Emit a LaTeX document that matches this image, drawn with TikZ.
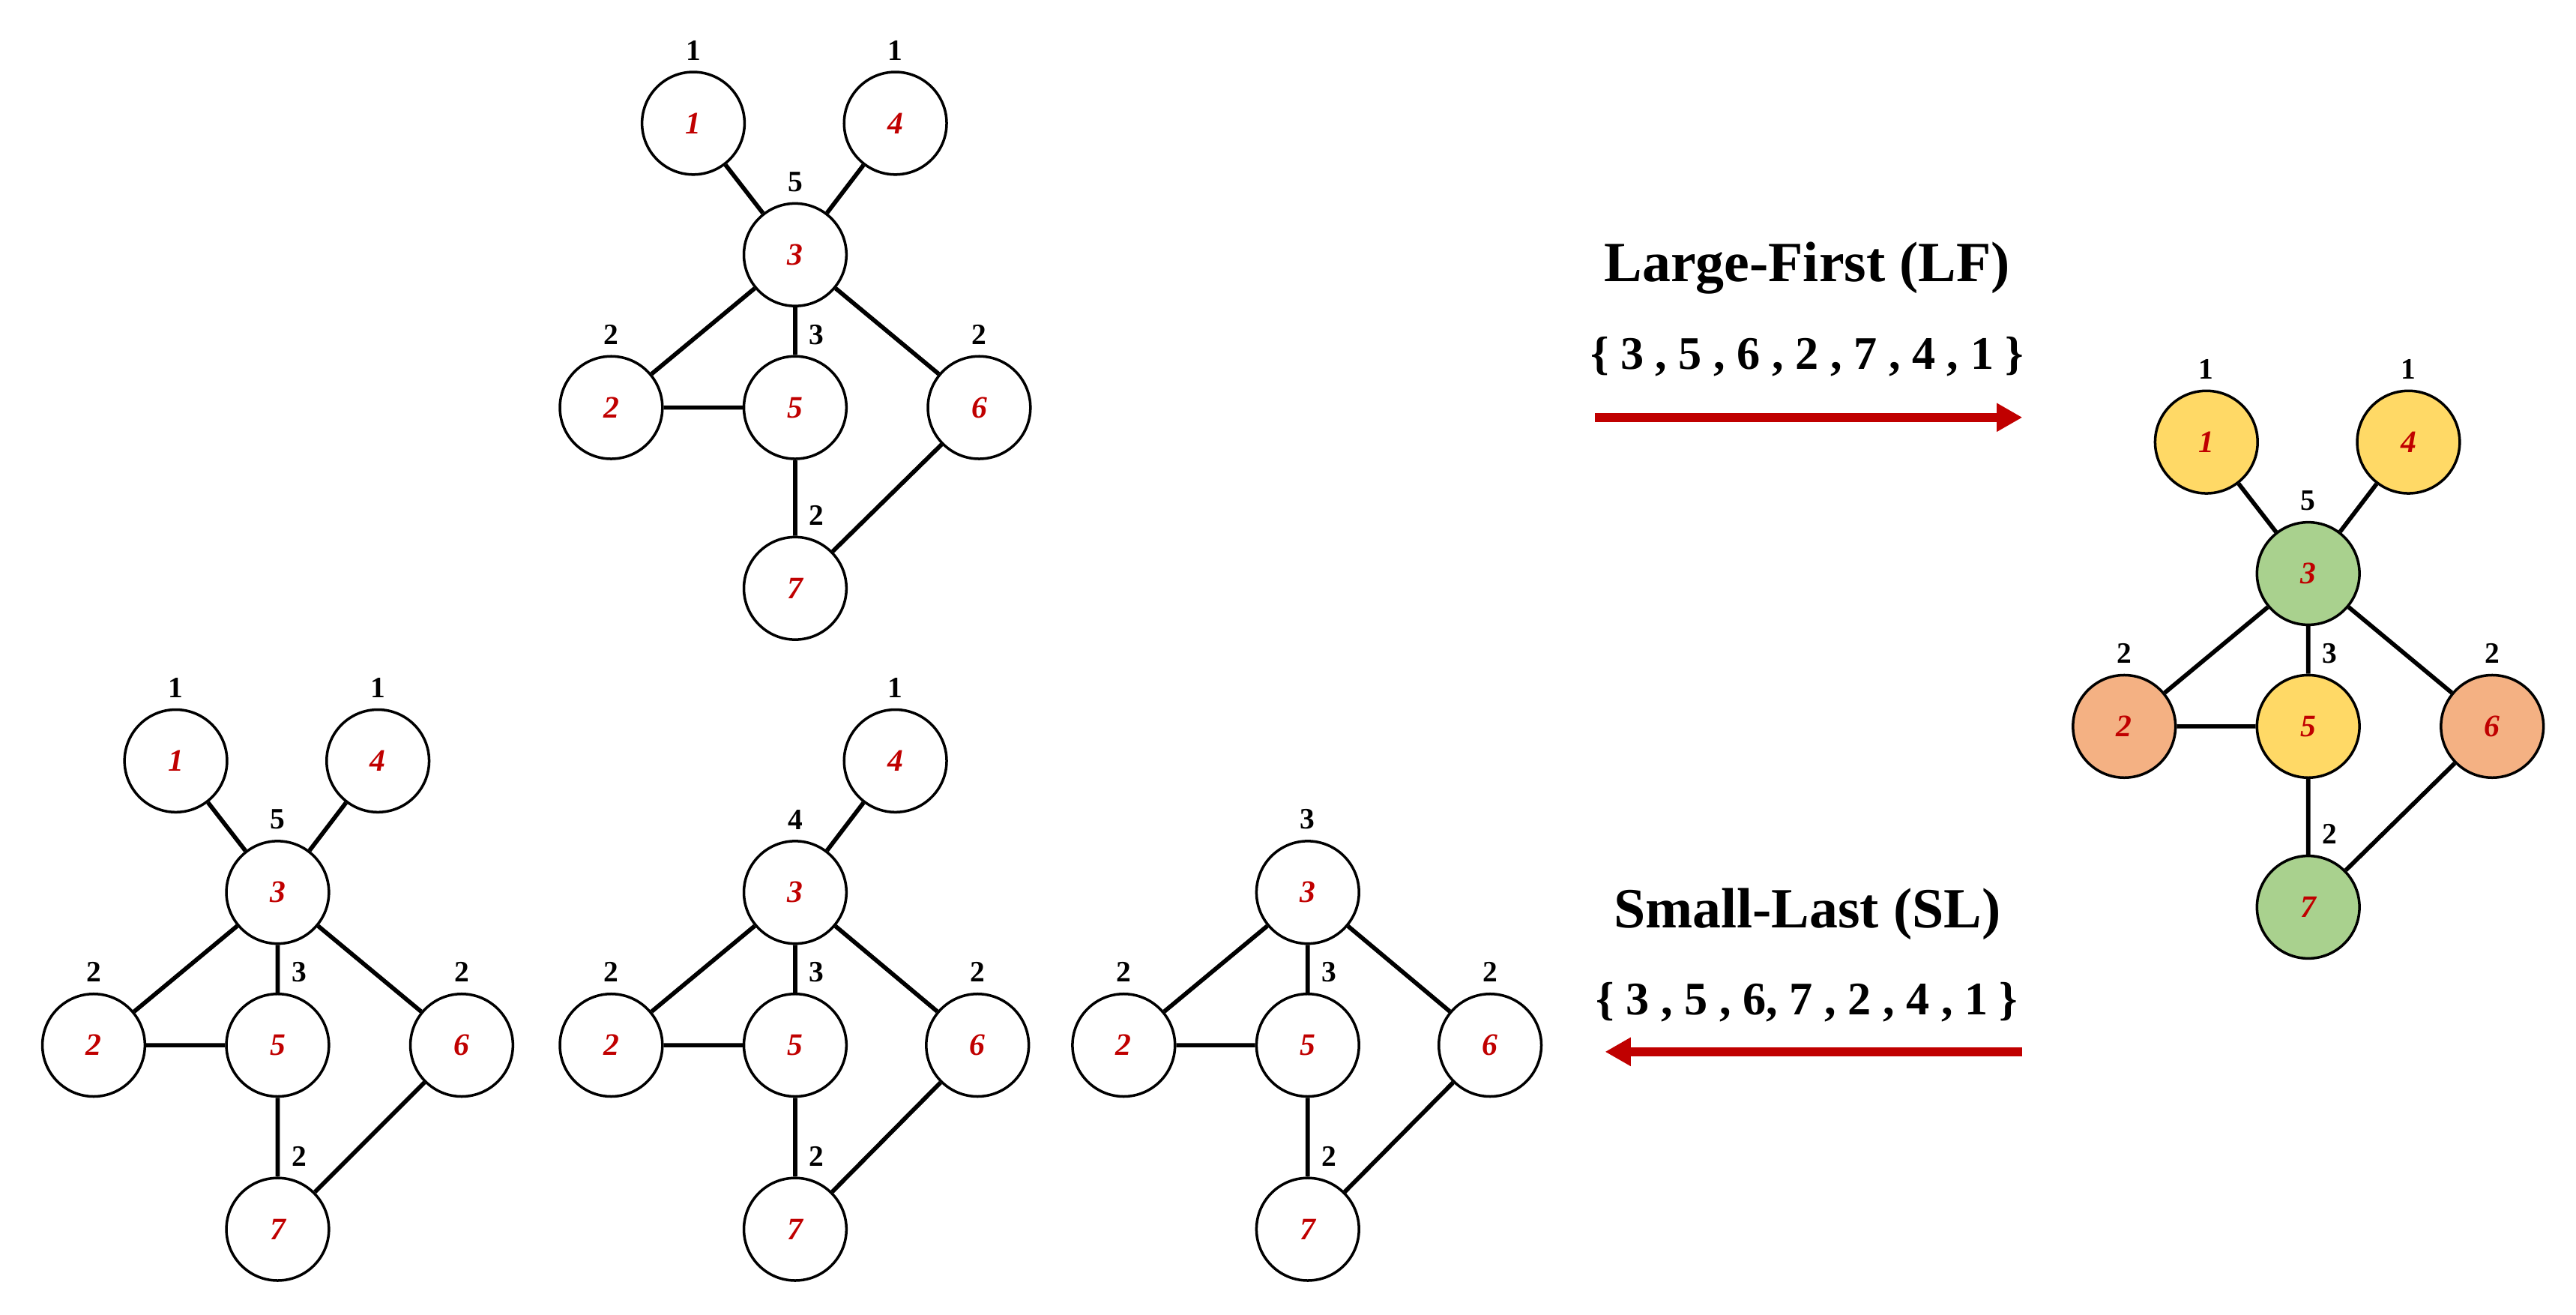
\documentclass[tikz,border=0pt]{standalone}
\usepackage{fontspec}
\setmainfont{Liberation Serif}
\usepackage{tikz}
\usetikzlibrary{arrows.meta,positioning}
\definecolor{vred}{HTML}{C00000}
\definecolor{vyellow}{HTML}{FFD966}
\definecolor{vgreen}{HTML}{A9D18E}
\definecolor{vorange}{HTML}{F4B183}
\tikzset{
  vertex/.style={circle, draw, line width=0.8pt, minimum size=31.2pt, inner sep=0pt,
    text=vred, font=\fontsize{9.5}{10}\selectfont\bfseries\itshape},
  degree/.style={font=\fontsize{9}{10}\selectfont\bfseries, inner sep=0pt, text=black},
  edge/.style={line width=1.3pt},
  order/.style={line width=2.7pt, color=vred, -{Triangle[length=7.8pt,width=8.2pt]}},
  title/.style={font=\fontsize{17.3}{20}\selectfont\bfseries},
  seq/.style={font=\fontsize{14.2}{16}\selectfont\bfseries},
}

\begin{document}
\begin{tikzpicture}[x=0.5pt, y=0.5pt, every label/.style={degree}, label distance=3pt]
        \useasboundingbox (0,0) rectangle (1568,-800);

        % original graph
        \begin{scope}[shift={(484,-155)}]
        \node[vertex, label=above:1] (top1) at (-62,80) {1};
        \node[vertex, label=above:1] (top4) at (61,80) {4};
        \node[vertex, label=above:5] (top3) at (0,0) {3};
        \node[vertex, label=above:2] (top2) at (-112,-93) {2};
        \node[vertex, label={[xshift=6.5pt]above:3}] (top5) at (0,-93) {5};
        \node[vertex, label=above:2] (top6) at (112,-93) {6};
        \node[vertex, label={[xshift=6.5pt]above:2}] (top7) at (0,-203) {7};
        \end{scope}
        \draw[edge] (top1)--(top3) (top4)--(top3) (top3)--(top2) (top3)--(top5) (top3)--(top6)
              (top2)--(top5) (top5)--(top7) (top6)--(top7);

        % coloured graph
        \begin{scope}[shift={(1405,-349)}]
        \node[vertex, fill=vyellow, label=above:1] (lf1) at (-62,80) {1};
        \node[vertex, fill=vyellow, label=above:1] (lf4) at (61,80) {4};
        \node[vertex, fill=vgreen, label=above:5] (lf3) at (0,0) {3};
        \node[vertex, fill=vorange, label=above:2] (lf2) at (-112,-93) {2};
        \node[vertex, fill=vyellow, label={[xshift=6.5pt]above:3}] (lf5) at (0,-93) {5};
        \node[vertex, fill=vorange, label=above:2] (lf6) at (112,-93) {6};
        \node[vertex, fill=vgreen, label={[xshift=6.5pt]above:2}] (lf7) at (0,-203) {7};
        \end{scope}
        \draw[edge] (lf1)--(lf3) (lf4)--(lf3) (lf3)--(lf2) (lf3)--(lf5) (lf3)--(lf6)
              (lf2)--(lf5) (lf5)--(lf7) (lf6)--(lf7);

        % small-last steps
        \begin{scope}[shift={(169,-543)}]
        \node[vertex, label=above:1] (sla1) at (-62,80) {1};
        \node[vertex, label=above:1] (sla4) at (61,80) {4};
        \node[vertex, label=above:5] (sla3) at (0,0) {3};
        \node[vertex, label=above:2] (sla2) at (-112,-93) {2};
        \node[vertex, label={[xshift=6.5pt]above:3}] (sla5) at (0,-93) {5};
        \node[vertex, label=above:2] (sla6) at (112,-93) {6};
        \node[vertex, label={[xshift=6.5pt]above:2}] (sla7) at (0,-205) {7};
        \end{scope}
        \draw[edge] (sla1)--(sla3) (sla4)--(sla3) (sla3)--(sla2) (sla3)--(sla5) (sla3)--(sla6)
              (sla2)--(sla5) (sla5)--(sla7) (sla6)--(sla7);

        \begin{scope}[shift={(484,-543)}]
        \node[vertex, label=above:1] (slb4) at (61,80) {4};
        \node[vertex, label=above:4] (slb3) at (0,0) {3};
        \node[vertex, label=above:2] (slb2) at (-112,-93) {2};
        \node[vertex, label={[xshift=6.5pt]above:3}] (slb5) at (0,-93) {5};
        \node[vertex, label=above:2] (slb6) at (111,-93) {6};
        \node[vertex, label={[xshift=6.5pt]above:2}] (slb7) at (0,-205) {7};
        \end{scope}
        \draw[edge] (slb4)--(slb3) (slb3)--(slb2) (slb3)--(slb5) (slb3)--(slb6)
              (slb2)--(slb5) (slb5)--(slb7) (slb6)--(slb7);

        \begin{scope}[shift={(796,-543)}]
        \node[vertex, label=above:3] (slc3) at (0,0) {3};
        \node[vertex, label=above:2] (slc2) at (-112,-93) {2};
        \node[vertex, label={[xshift=6.5pt]above:3}] (slc5) at (0,-93) {5};
        \node[vertex, label=above:2] (slc6) at (111,-93) {6};
        \node[vertex, label={[xshift=6.5pt]above:2}] (slc7) at (0,-205) {7};
        \end{scope}
        \draw[edge] (slc3)--(slc2) (slc3)--(slc5) (slc3)--(slc6)
              (slc2)--(slc5) (slc5)--(slc7) (slc6)--(slc7);

        % orderings
        \node[title] (lftitle) at (1100,-163) {Large-First (LF)};
        \node[seq] (lfseq) at (1100,-217) {\{ 3 , 5 , 6 , 2 , 7 , 4 , 1 \}};
        \coordinate (lfstart) at (971,-254);
        \coordinate (lfend) at (1231,-254);
        \draw[order] (lfstart) -- (lfend);

        \node[title] (sltitle) at (1100,-556) {Small-Last (SL)};
        \node[seq] (slseq) at (1100,-610) {\{ 3 , 5 , 6, 7 , 2 , 4 , 1 \}};
        \coordinate (slstart) at (1231,-640);
        \coordinate (slend) at (977,-640);
        \draw[order] (slstart) -- (slend);
    \end{tikzpicture}
\end{document}
